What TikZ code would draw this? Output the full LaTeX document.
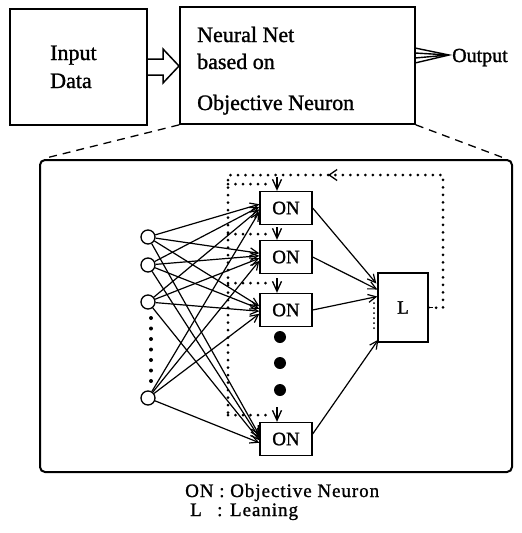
\documentclass[tikz,border=0pt]{standalone}
\usepackage{fontspec}
\setmainfont{Liberation Serif}[FakeBold=1.2]
\usetikzlibrary{arrows.meta,calc}
\begin{document}
\begin{tikzpicture}[x=1pt,y=-1pt,
  box/.style={draw,line width=1.7pt,inner sep=0pt},
  onbox/.style={draw,line width=1.3pt,minimum width=52pt,minimum height=33pt,inner sep=0pt,font=\fontsize{19}{22}\selectfont},
  incirc/.style={draw,circle,line width=1.3pt,minimum size=14pt,inner sep=0pt},
  bigdot/.style={fill,circle,minimum size=12pt,inner sep=0pt},
  conn/.style={line width=1.2pt,-{Straight Barb[length=8pt,width=8pt,line width=1.2pt]}},
  vtip/.style={line width=1.3pt,-{Straight Barb[length=10pt,width=9pt,line width=1.3pt]}},
  dotline/.style={line width=3pt,line cap=round,dash pattern=on 0pt off 7.5pt},
  bigdots/.style={line width=4pt,line cap=round,dash pattern=on 0pt off 10.5pt},
  dashline/.style={line width=1.3pt,dash pattern=on 8pt off 6pt},
  toptext/.style={font=\fontsize{22}{26}\selectfont,inner sep=0pt,anchor=base west},
  legtext/.style={font=\fontsize{19}{22}\selectfont\addfontfeature{LetterSpace=5},inner sep=0pt,anchor=base west}]
\useasboundingbox (0,0) rectangle (522,533);

% top row
\node[box,minimum width=137pt,minimum height=116pt] (inbox) at (78.5,67) {};
\node[box,minimum width=235pt,minimum height=117pt] (nn) at (297.5,65.5) {};
\node[toptext] (tinput) at (50,60) {Input};
\node[toptext] (tdata) at (50,88) {Data};
\node[toptext] (tnn1) at (197,42) {Neural Net};
\node[toptext] (tnn2) at (197,69) {based on};
\node[toptext] (tnn3) at (197,110) {Objective Neuron};
\node[font=\fontsize{20}{24}\selectfont,inner sep=0pt,anchor=base west] (tout) at (452,62) {Output};

% hollow arrow input -> net
\draw[line width=1.5pt,line join=miter] (147,59) -- (163,59) -- (163,49) -- (179,66) -- (163,83) -- (163,75) -- (147,75);
% output arrow
\coordinate (outtip) at (449,55);
\draw[line width=1.4pt] (415,48) -- (outtip) -- (415,63);
\draw[line width=1.4pt] (415,53) -- (outtip) -- (415,58);

% zoom dashed lines
\coordinate (zl) at (46,158);
\coordinate (zr) at (504,158);
\draw[dashline] (nn.south west) -- (zl);
\draw[dashline] (nn.south east) -- (zr);

% big frame
\draw[line width=2pt,rounded corners=5pt] (40,160) rectangle (512,472);

% input circles
\node[incirc] (c1) at (148,237) {};
\node[incirc] (c2) at (148,265) {};
\node[incirc] (c3) at (148,302) {};
\node[incirc] (c4) at (148,398) {};
\draw[bigdots] (151,318) -- (151,381);

% ON boxes
\node[onbox] (on1) at (286,208) {ON};
\node[onbox] (on2) at (286,257) {ON};
\node[onbox] (on3) at (286,310) {ON};
\node[onbox] (on4) at (286,439) {ON};
\node[bigdot] (d1) at (280,337) {};
\node[bigdot] (d2) at (280,363) {};
\node[bigdot] (d3) at (280,390) {};

% L box
\node[draw,line width=1.3pt,minimum width=50pt,minimum height=69pt,inner sep=0pt,font=\fontsize{19}{22}\selectfont] (L) at (403,307.5) {L};

% connections inputs -> ON
\foreach \i in {1,...,4}{
  \foreach \j in {1,...,4}{
    \draw[conn] (c\i) -- ($(on\j.west)+(0,{(\i-2.5)*2.5})$);
  }
}
% ON -> L
\draw[conn] (on1.east) -- ($(L.west)+(-1,-24)$);
\draw[conn] (on2.east) -- ($(L.west)+(0,-18)$);
\draw[conn] (on3.east) -- ($(L.west)+(0,-11)$);
\draw[conn] ($(on4.east)+(0,-5)$) -- ($(L.south west)+(1,-3)$);

% feedback (dotted)
\coordinate (fbR) at (443,308);
\coordinate (fbT) at (443,175);
\coordinate (fbA) at (328,175);
\coordinate (fbTL) at (228,175);
\coordinate (fbB) at (228,415);
\draw[line width=1.3pt] (L.east) -- ++(4,0);
\draw[dotline] (L.east) -- (fbR) -- (fbT) -- (fbA);
\draw[line width=1.3pt,-{Straight Barb[length=8pt,width=11pt,line width=1.3pt]}] ($(fbA)+(3,0)$) -- (fbA);
\draw[dotline] (fbA) -- (fbTL) -- (fbB);
% branches to ON tops
\draw[dotline] (228,184) -- (271,184);
\draw[dotline] (228,234) -- (271,234);
\draw[dotline] (228,283) -- (271,283);
\draw[dotline] (228,415) -- (271,415);
\coordinate (v1) at (277,177);
\coordinate (v2) at (277,227);
\coordinate (v3) at (277,278);
\coordinate (v4) at (277,407);
\draw[vtip] (v1) -- (v1 |- on1.north);
\draw[vtip] (v2) -- (v2 |- on2.north);
\draw[vtip] (v3) -- (v3 |- on3.north);
\draw[vtip] (v4) -- (v4 |- on4.north);
% short dotted line left of L
\draw[line width=2pt,line cap=round,dash pattern=on 0pt off 5pt] (374,303) -- (374,332);

% legend
\node[legtext] (leg1) at (185,497) {ON : Objective Neuron};
\node[legtext] (leg2a) at (190,516) {L};
\node[legtext] (leg2b) at (217,516) {: Leaning};
\end{tikzpicture}
\end{document}
